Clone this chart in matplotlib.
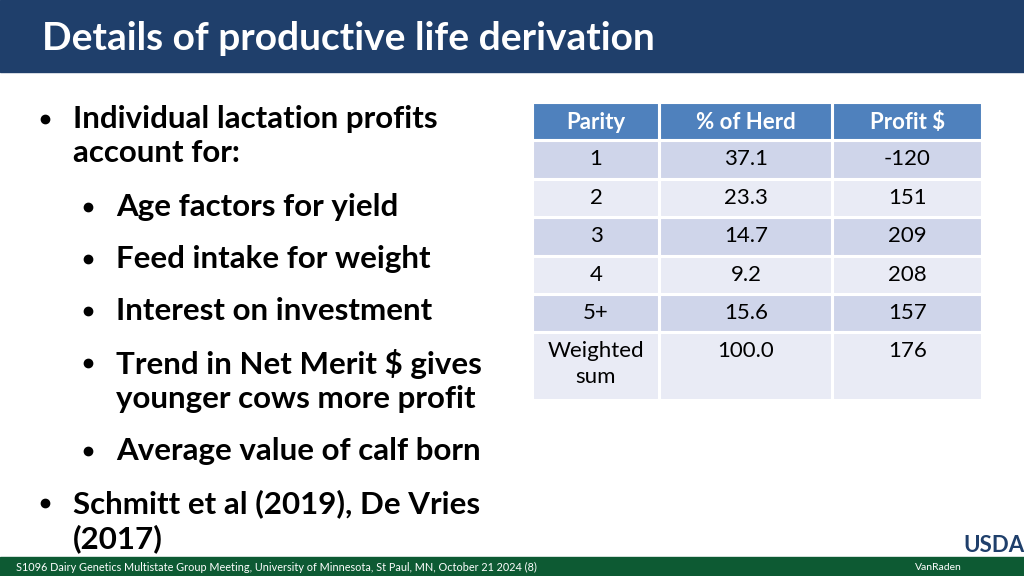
import matplotlib
matplotlib.use("Agg")
import matplotlib.pyplot as plt
from matplotlib.patches import Rectangle

title = "Details of productive life derivation"
headers = ["Parity", "% of Herd", "Profit $"]
parity = ["1", "2", "3", "4", "5+", "Weighted\nsum"]
pct_herd = ["37.1", "23.3", "14.7", "9.2", "15.6", "100.0"]
profit = ["-120", "151", "209", "208", "157", "176"]
bullets = [
    (0, "Individual lactation profits\naccount for:"),
    (1, "Age factors for yield"),
    (1, "Feed intake for weight"),
    (1, "Interest on investment"),
    (1, "Trend in Net Merit $ gives\nyounger cows more profit"),
    (1, "Average value of calf born"),
    (0, "Schmitt et al (2019), De Vries\n(2017)"),
]
bullet_y = [118, 206, 258, 310, 362, 450, 502]
footer = "S1096 Dairy Genetics Multistate Group Meeting, University of Minnesota, St Paul, MN, October 21 2024 (8)"

FONT = "Lato"
fig = plt.figure(figsize=(10.24, 5.76), dpi=100)
ax = fig.add_axes([0, 0, 1, 1])
ax.set_xlim(0, 1024); ax.set_ylim(576, 0); ax.axis("off")

ax.add_patch(Rectangle((0, 0), 1024, 72, color="#1f3f6b"))
ax.text(42, 38, title, color="white", fontsize=28, fontweight="bold", family=FONT, va="center")

for (lvl, txt), y in zip(bullets, bullet_y):
    x = 45 if lvl == 0 else 88
    ax.plot([x], [y + 1], "o", color="black", ms=6)
    ax.text(x + 28, y - 13, txt, fontsize=22.5, fontweight="bold", family=FONT, va="top",
            linespacing=1.28)

cols = [(533, 659), (660, 832), (833, 982)]
rows = [(103, 140), (141, 179), (180, 217), (218, 256), (257, 294), (295, 332), (333, 400)]
data = [headers] + [[a, b, c] for a, b, c in zip(parity, pct_herd, profit)]
for ri, (r0, r1) in enumerate(rows):
    for ci, (c0, c1) in enumerate(cols):
        fc = "#4f81bd" if ri == 0 else ("#cfd5ea" if ri % 2 == 1 else "#e9ebf5")
        ax.add_patch(Rectangle((c0, r0), c1 - c0, r1 - r0, facecolor=fc, edgecolor="white", lw=1.5))
        txt = data[ri][ci]
        if ri == 0:
            ax.text((c0 + c1) / 2, (r0 + r1) / 2 + 1, txt, ha="center", va="center", fontsize=16,
                    fontweight="bold", color="white", family=FONT)
        else:
            ax.text((c0 + c1) / 2, r0 + 8, txt, ha="center", va="top", fontsize=16,
                    color="black", family=FONT, linespacing=1.35)

ax.add_patch(Rectangle((0, 557), 1024, 19, color="#0d5a33"))
ax.text(16, 567, footer, color="white", fontsize=7.8, va="center", family=FONT)
ax.text(962, 567, "VanRaden", color="white", fontsize=7.5, va="center", ha="right", family=FONT)
ax.text(994, 556, "USDA", color="#1f3f6b", fontsize=16, fontweight="bold", ha="center", va="bottom", family=FONT)

fig.savefig("out.png", dpi=100)
